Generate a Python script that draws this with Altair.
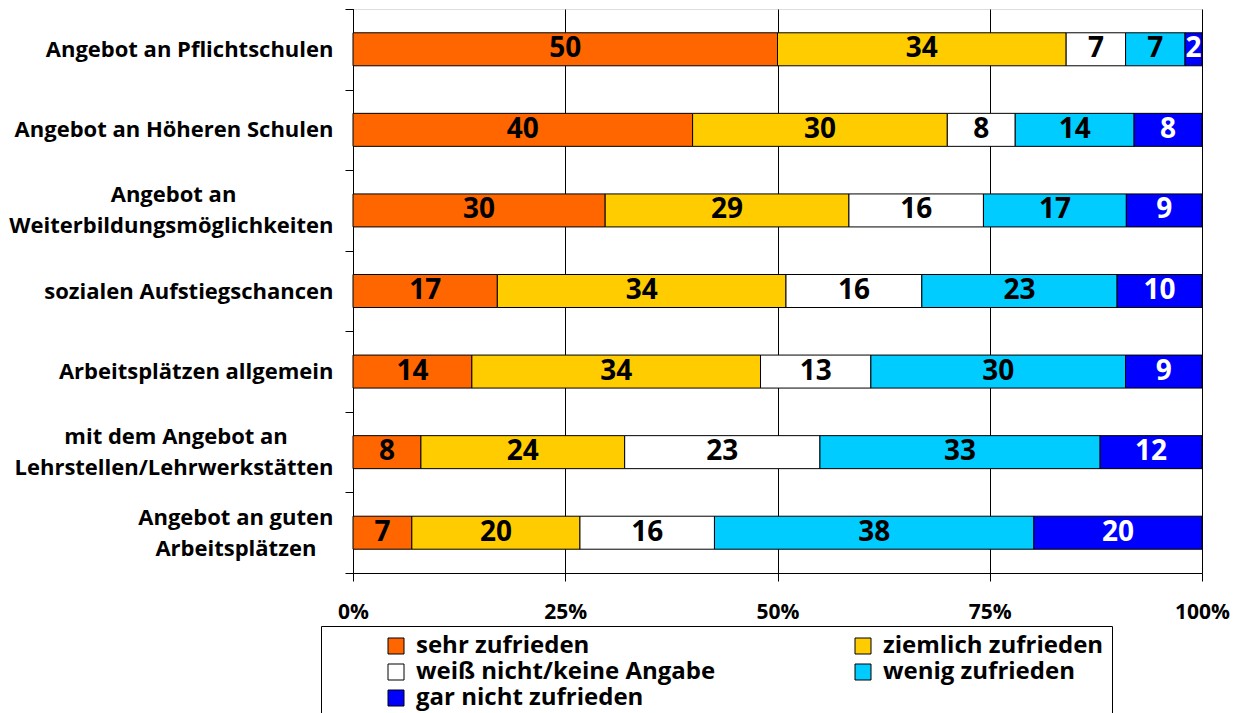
import json
import altair as alt
import pandas as pd

categories = [
    "Angebot an Pflichtschulen",
    "Angebot an Höheren Schulen",
    "Angebot an|Weiterbildungsmöglichkeiten",
    "sozialen Aufstiegschancen",
    "Arbeitsplätzen allgemein",
    "mit dem Angebot an|Lehrstellen/Lehrwerkstätten",
    "Angebot an guten|Arbeitsplätzen",
]
series = [
    "sehr zufrieden",
    "ziemlich zufrieden",
    "weiß nicht/keine Angabe",
    "wenig zufrieden",
    "gar nicht zufrieden",
]
colors = ["#FF6600", "#FFCC00", "#FFFFFF", "#00CCFF", "#0000FF"]

sehr_zufrieden = [50, 40, 30, 17, 14, 8, 7]
ziemlich_zufrieden = [34, 30, 29, 34, 34, 24, 20]
weiss_nicht = [7, 8, 16, 16, 13, 23, 16]
wenig_zufrieden = [7, 14, 17, 23, 30, 33, 38]
gar_nicht_zufrieden = [2, 8, 9, 10, 9, 12, 20]

x_ticks = [0, 0.25, 0.5, 0.75, 1.0]

values = [sehr_zufrieden, ziemlich_zufrieden, weiss_nicht, wenig_zufrieden, gar_nicht_zufrieden]
rows = []
for si, (s, vals) in enumerate(zip(series, values)):
    for c, v in zip(categories, vals):
        rows.append({"cat": c, "series": s, "rank": si, "value": v})
df = pd.DataFrame(rows)

FONT = "Open Sans"
NB = "\u00a0"   # no-break space
ZW = "\u200b"   # zero-width space (keeps lines from being trimmed)

# centre the shorter line of a two-line label under the longer one
line_indent = {"Angebot an": 17, "mit dem Angebot an": 8, "Arbeitsplätzen": 3}


def label_lines(cat):
    parts = cat.split("|")
    parts = [p + (NB * line_indent[p] + ZW if p in line_indent else "") for p in parts]
    if len(parts) == 1:
        return [ZW, parts[0]]
    return [parts[0], ZW, parts[1]]


expr = "''"
for cat in reversed(categories):
    expr = (
        f"datum.value === {json.dumps(cat, ensure_ascii=False)} ? "
        f"{json.dumps(label_lines(cat), ensure_ascii=False)} : ({expr})"
    )

base = alt.Chart(df).transform_stack(
    stack="value",
    groupby=["cat"],
    as_=["x0", "x1"],
    offset="normalize",
    sort=[alt.SortField("rank", order="ascending")],
).transform_calculate(xm="(datum.x0 + datum.x1) / 2")

y_axis = alt.Axis(
    title=None,
    labelExpr=expr,
    labelFont=FONT,
    labelFontSize=22,
    labelFontWeight="bold",
    labelColor="black",
    labelLineHeight=15.5,
    labelOffset=-15.5,
    labelLimit=0,
    labelBaseline="middle",
    labelAlign="right",
    labelPadding=12,
    tickBand="extent",
    tickSize=8,
    tickColor="black",
    tickWidth=1,
    domainColor="black",
    domainWidth=1,
    grid=False,
    minExtent=345,
    maxExtent=345,
)

y_scale = alt.Scale(paddingInner=0, paddingOuter=0)

bars = base.mark_bar(stroke="black", strokeWidth=1, size=33).encode(
    x=alt.X(
        "x0:Q",
        scale=alt.Scale(domain=[0, 1], nice=False),
        axis=alt.Axis(
            title=None,
            values=x_ticks,
            format=".0%",
            labelFont=FONT,
            labelFontSize=21,
            labelFontWeight="bold",
            labelColor="black",
            labelPadding=20,
            labelFlush=False,
            tickSize=8,
            tickColor="black",
            domainColor="black",
            grid=True,
            gridColor="black",
            gridWidth=1,
            gridOpacity=1,
        ),
    ),
    x2="x1:Q",
    y=alt.Y("cat:N", sort=categories, scale=y_scale, axis=y_axis),
    color=alt.Color(
        "series:N",
        scale=alt.Scale(domain=series, range=colors),
        legend=alt.Legend(
            title=ZW,
            titleOrient="left",
            titlePadding=55,
            orient="none",
            legendX=-32,
            legendY=617,
            direction="horizontal",
            columns=2,
            gridAlign="all",
            columnPadding=135,
            rowPadding=2,
            symbolType="square",
            symbolSize=256,
            symbolStrokeColor="black",
            symbolStrokeWidth=1,
            labelOffset=8,
            labelFont=FONT,
            labelFontSize=24,
            labelFontWeight="bold",
            labelColor="black",
            labelLimit=0,
            padding=8,
            strokeColor="black",
            fillColor="white",
        ),
    ),
)

labels = base.mark_text(font=FONT, fontSize=28, fontWeight="bold", baseline="middle", align="center").encode(
    x=alt.X("xm:Q"),
    y=alt.Y("cat:N", sort=categories),
    text=alt.Text("value:Q"),
    color=alt.condition(alt.datum.series == "gar nicht zufrieden", alt.value("white"), alt.value("black")),
)

chart = (
    alt.layer(bars, labels)
    .properties(
        width=849,
        height=564,
        padding={"left": 0, "top": -10, "right": 5, "bottom": 0},
    )
    .configure_view(stroke="#555555", strokeWidth=2)
    .configure(background="white")
)

chart.save("out.html", embed_options={"renderer": "svg", "actions": False})
